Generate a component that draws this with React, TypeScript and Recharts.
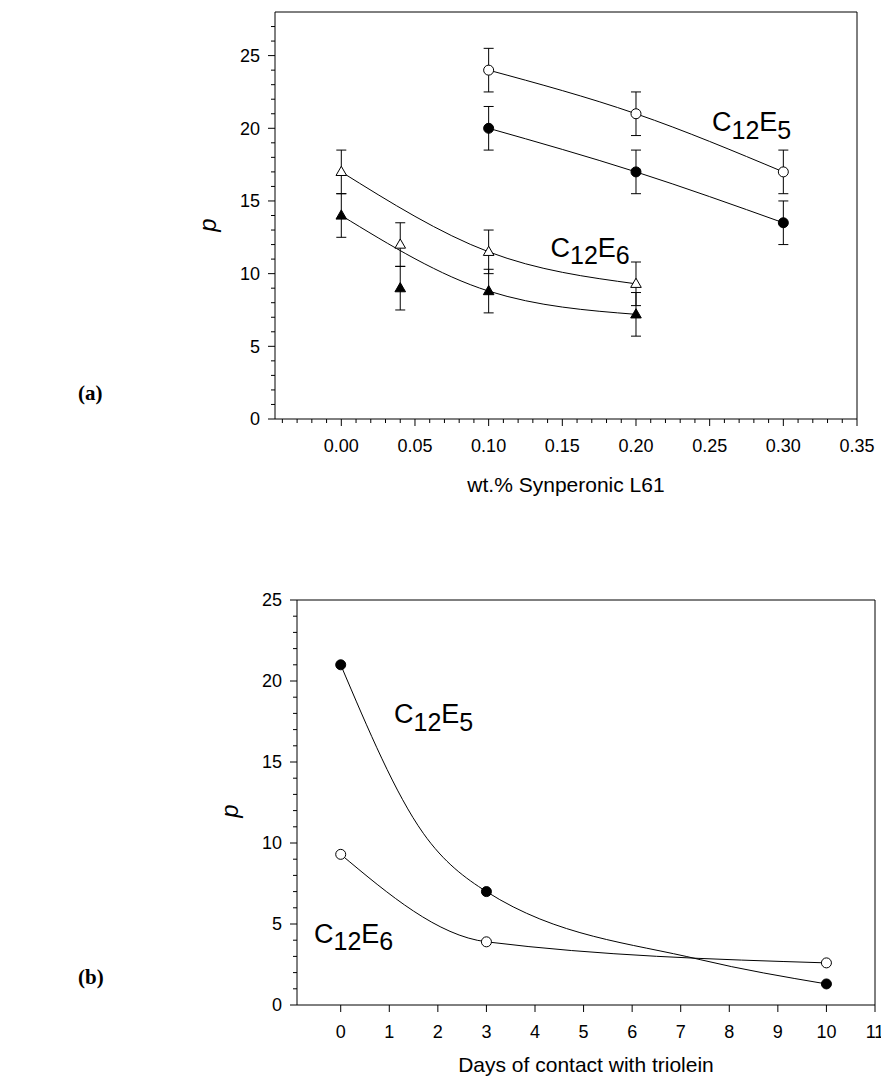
import React from "react";
import {
  ComposedChart,
  Line,
  Scatter,
  XAxis,
  YAxis,
  ErrorBar,
  ReferenceLine,
} from "recharts";

const FONT = "'Liberation Sans', Arial, Helvetica, sans-serif";

// (a) p vs wt.% Synperonic L61
const c12e5X = [0.1, 0.2, 0.3];
const c12e5OpenP = [24, 21, 17];
const c12e5FilledP = [20, 17, 13.5];
const c12e5Err = [1.5, 1.5, 1.5];

const c12e6X = [0.0, 0.04, 0.1, 0.2];
const c12e6OpenP = [17, 12, 11.5, 9.3];
const c12e6FilledP = [14, 9, 8.8, 7.2];
const c12e6Err = [1.5, 1.5, 1.5, 1.5];

// fitted curves drawn through the C12E6 data
const c12e6FitX = [0.0, 0.1, 0.2];
const c12e6OpenFit = [17, 11.5, 9.3];
const c12e6FilledFit = [14, 8.8, 7.2];

const wtMajorTicks = [0, 0.05, 0.1, 0.15, 0.2, 0.25, 0.3, 0.35];
const wtAllTicks = Array.from({ length: 40 }, (_, i) => (i - 4) / 100);
const pTopMajor = [0, 5, 10, 15, 20, 25];
const pTopTicks = Array.from({ length: 28 }, (_, i) => i);

// (b) p vs days of contact with triolein
const days = [0, 3, 10];
const c12e5Days = [21, 7, 1.3];
const c12e6Days = [9.3, 3.9, 2.6];

// fitted C12E5 curve at a few days
const c12e5FitDays = [0, 1.7, 3, 7.4, 10];
const c12e5FitP = [21, 10.6, 7, 2.8, 1.3];

const dayTicks = [0, 1, 2, 3, 4, 5, 6, 7, 8, 9, 10, 11];
const pBotMajor = [0, 5, 10, 15, 20, 25];
const pBotTicks = Array.from({ length: 26 }, (_, i) => i);

const rows = (xs: number[], ys: number[], err?: number[]) =>
  xs.map((x, i) => ({ x, p: ys[i], err: err ? err[i] : undefined }));

const isIn = (list: number[], v: number) => list.some((m) => Math.abs(m - v) < 1e-9);

const XTick = (props: any) => {
  const { x, y, payload, majors, fmt } = props;
  const major = isIn(majors, payload.value);
  return (
    <g>
      <line x1={x} x2={x} y1={y} y2={y + (major ? 7 : 4)} stroke="#000" strokeWidth={1} />
      {major && (
        <text x={x} y={y + 33} textAnchor="middle" fontSize={18} fontFamily={FONT} fill="#000">
          {fmt(payload.value)}
        </text>
      )}
    </g>
  );
};

const YTick = (props: any) => {
  const { x, y, payload, majors } = props;
  const major = isIn(majors, payload.value);
  return (
    <g>
      <line x1={x} x2={x - (major ? 7 : 4)} y1={y} y2={y} stroke="#000" strokeWidth={1} />
      {major && (
        <text x={x - 15} y={y + 6.4} textAnchor="end" fontSize={18} fontFamily={FONT} fill="#000">
          {payload.value}
        </text>
      )}
    </g>
  );
};

const circle = (fill: string) => (props: any) =>
  <circle cx={props.cx} cy={props.cy} r={5} fill={fill} stroke="#000" strokeWidth={1} />;

const triangle = (fill: string) => (props: any) => {
  const { cx, cy } = props;
  return (
    <polygon
      points={`${cx},${cy - 5.6} ${cx - 5.3},${cy + 3.6} ${cx + 5.3},${cy + 3.6}`}
      fill={fill}
      stroke="#000"
      strokeWidth={1}
    />
  );
};

const lineProps = {
  type: "monotone" as const,
  dataKey: "p",
  stroke: "#000",
  strokeWidth: 1,
  dot: false,
  activeDot: false,
  isAnimationActive: false,
};

const Sub = ({ x, y, n }: { x: number; y: number; n: string }) => (
  <text x={x} y={y} fontFamily={FONT} fontSize={27} fill="#000">
    C
    <tspan fontSize={25} dy={7.5}>12</tspan>
    <tspan fontSize={27} dy={-7.5}>E</tspan>
    <tspan fontSize={25} dy={7.5}>{n}</tspan>
  </text>
);

function TopChart() {
  return (
    <ComposedChart width={881} height={520} margin={{ top: 12, left: 215, right: 24, bottom: 21 }}>
      <XAxis
        type="number"
        dataKey="x"
        domain={[-0.045, 0.35]}
        allowDataOverflow
        ticks={wtAllTicks}
        interval={0}
        tickSize={0}
        tickMargin={0}
        tickLine={false}
        axisLine={{ stroke: "#000", strokeWidth: 1 }}
        height={80}
        tick={(p: any) => <XTick {...p} majors={wtMajorTicks} fmt={(v: number) => v.toFixed(2)} />}
      />
      <YAxis
        type="number"
        dataKey="p"
        domain={[0, 28]}
        allowDataOverflow
        ticks={pTopTicks}
        interval={0}
        tickSize={0}
        tickMargin={0}
        tickLine={false}
        axisLine={{ stroke: "#000", strokeWidth: 1 }}
        width={60}
        tick={(p: any) => <YTick {...p} majors={pTopMajor} />}
      />
      <ReferenceLine y={28} stroke="#000" strokeWidth={1} ifOverflow="visible" />
      <ReferenceLine x={0.35} stroke="#000" strokeWidth={1} ifOverflow="visible" />
      <Line {...lineProps} data={rows(c12e5X, c12e5OpenP)} />
      <Line {...lineProps} data={rows(c12e5X, c12e5FilledP)} />
      <Line {...lineProps} data={rows(c12e6FitX, c12e6OpenFit)} />
      <Line {...lineProps} data={rows(c12e6FitX, c12e6FilledFit)} />
      <Scatter data={rows(c12e5X, c12e5OpenP, c12e5Err)} dataKey="p" shape={circle("#fff")} isAnimationActive={false}>
        <ErrorBar dataKey="err" direction="y" width={5} stroke="#000" strokeWidth={1} isAnimationActive={false} />
      </Scatter>
      <Scatter data={rows(c12e5X, c12e5FilledP, c12e5Err)} dataKey="p" shape={circle("#000")} isAnimationActive={false}>
        <ErrorBar dataKey="err" direction="y" width={5} stroke="#000" strokeWidth={1} isAnimationActive={false} />
      </Scatter>
      <Scatter data={rows(c12e6X, c12e6OpenP, c12e6Err)} dataKey="p" shape={triangle("#fff")} isAnimationActive={false}>
        <ErrorBar dataKey="err" direction="y" width={5} stroke="#000" strokeWidth={1} isAnimationActive={false} />
      </Scatter>
      <Scatter data={rows(c12e6X, c12e6FilledP, c12e6Err)} dataKey="p" shape={triangle("#000")} isAnimationActive={false}>
        <ErrorBar dataKey="err" direction="y" width={5} stroke="#000" strokeWidth={1} isAnimationActive={false} />
      </Scatter>
    </ComposedChart>
  );
}

function BottomChart() {
  return (
    <ComposedChart width={881} height={539} margin={{ top: 60, left: 237, right: 6, bottom: 14 }}>
      <XAxis
        type="number"
        dataKey="x"
        domain={[-0.9, 11]}
        allowDataOverflow
        ticks={dayTicks}
        interval={0}
        tickSize={0}
        tickMargin={0}
        tickLine={false}
        axisLine={{ stroke: "#000", strokeWidth: 1 }}
        height={60}
        tick={(p: any) => <XTick {...p} majors={dayTicks} fmt={(v: number) => String(v)} />}
      />
      <YAxis
        type="number"
        dataKey="p"
        domain={[0, 25]}
        allowDataOverflow
        ticks={pBotTicks}
        interval={0}
        tickSize={0}
        tickMargin={0}
        tickLine={false}
        axisLine={{ stroke: "#000", strokeWidth: 1 }}
        width={60}
        tick={(p: any) => <YTick {...p} majors={pBotMajor} />}
      />
      <ReferenceLine y={25} stroke="#000" strokeWidth={1} ifOverflow="visible" />
      <ReferenceLine x={11} stroke="#000" strokeWidth={1} ifOverflow="visible" />
      <Line {...lineProps} data={rows(c12e5FitDays, c12e5FitP)} />
      <Line {...lineProps} data={rows(days, c12e6Days)} />
      <Scatter data={rows(days, c12e5Days)} dataKey="p" shape={circle("#000")} isAnimationActive={false} />
      <Scatter data={rows(days, c12e6Days)} dataKey="p" shape={circle("#fff")} isAnimationActive={false} />
    </ComposedChart>
  );
}

export default function App() {
  return (
    <div
      style={{
        position: "absolute",
        left: 0,
        top: 0,
        width: 881,
        height: 1079,
        background: "#fff",
        overflow: "hidden",
      }}
    >
      <div style={{ position: "absolute", left: 0, top: 0 }}>
        <TopChart />
      </div>
      <div style={{ position: "absolute", left: 0, top: 540 }}>
        <BottomChart />
      </div>
      <svg
        width={881}
        height={1079}
        style={{ position: "absolute", left: 0, top: 0, pointerEvents: "none" }}
      >
        <text x={566} y={492} textAnchor="middle" fontFamily={FONT} fontSize={21}>
          wt.% Synperonic L61
        </text>
        <text x={586} y={1072} textAnchor="middle" fontFamily={FONT} fontSize={21}>
          Days of contact with triolein
        </text>
        <text
          x={216}
          y={225}
          transform="rotate(-90 216 225)"
          textAnchor="middle"
          fontFamily={FONT}
          fontSize={24}
          fontStyle="italic"
        >
          p
        </text>
        <text
          x={238}
          y={811}
          transform="rotate(-90 238 811)"
          textAnchor="middle"
          fontFamily={FONT}
          fontSize={24}
          fontStyle="italic"
        >
          p
        </text>
        <Sub x={712} y={131} n="5" />
        <Sub x={550.5} y={256.7} n="6" />
        <Sub x={394} y={723.3} n="5" />
        <Sub x={314} y={942.5} n="6" />
        <text x={78} y={400} fontFamily="'Liberation Serif', 'Times New Roman', serif" fontWeight="bold" fontSize={21}>
          (a)
        </text>
        <text x={78} y={984} fontFamily="'Liberation Serif', 'Times New Roman', serif" fontWeight="bold" fontSize={21}>
          (b)
        </text>
      </svg>
    </div>
  );
}
